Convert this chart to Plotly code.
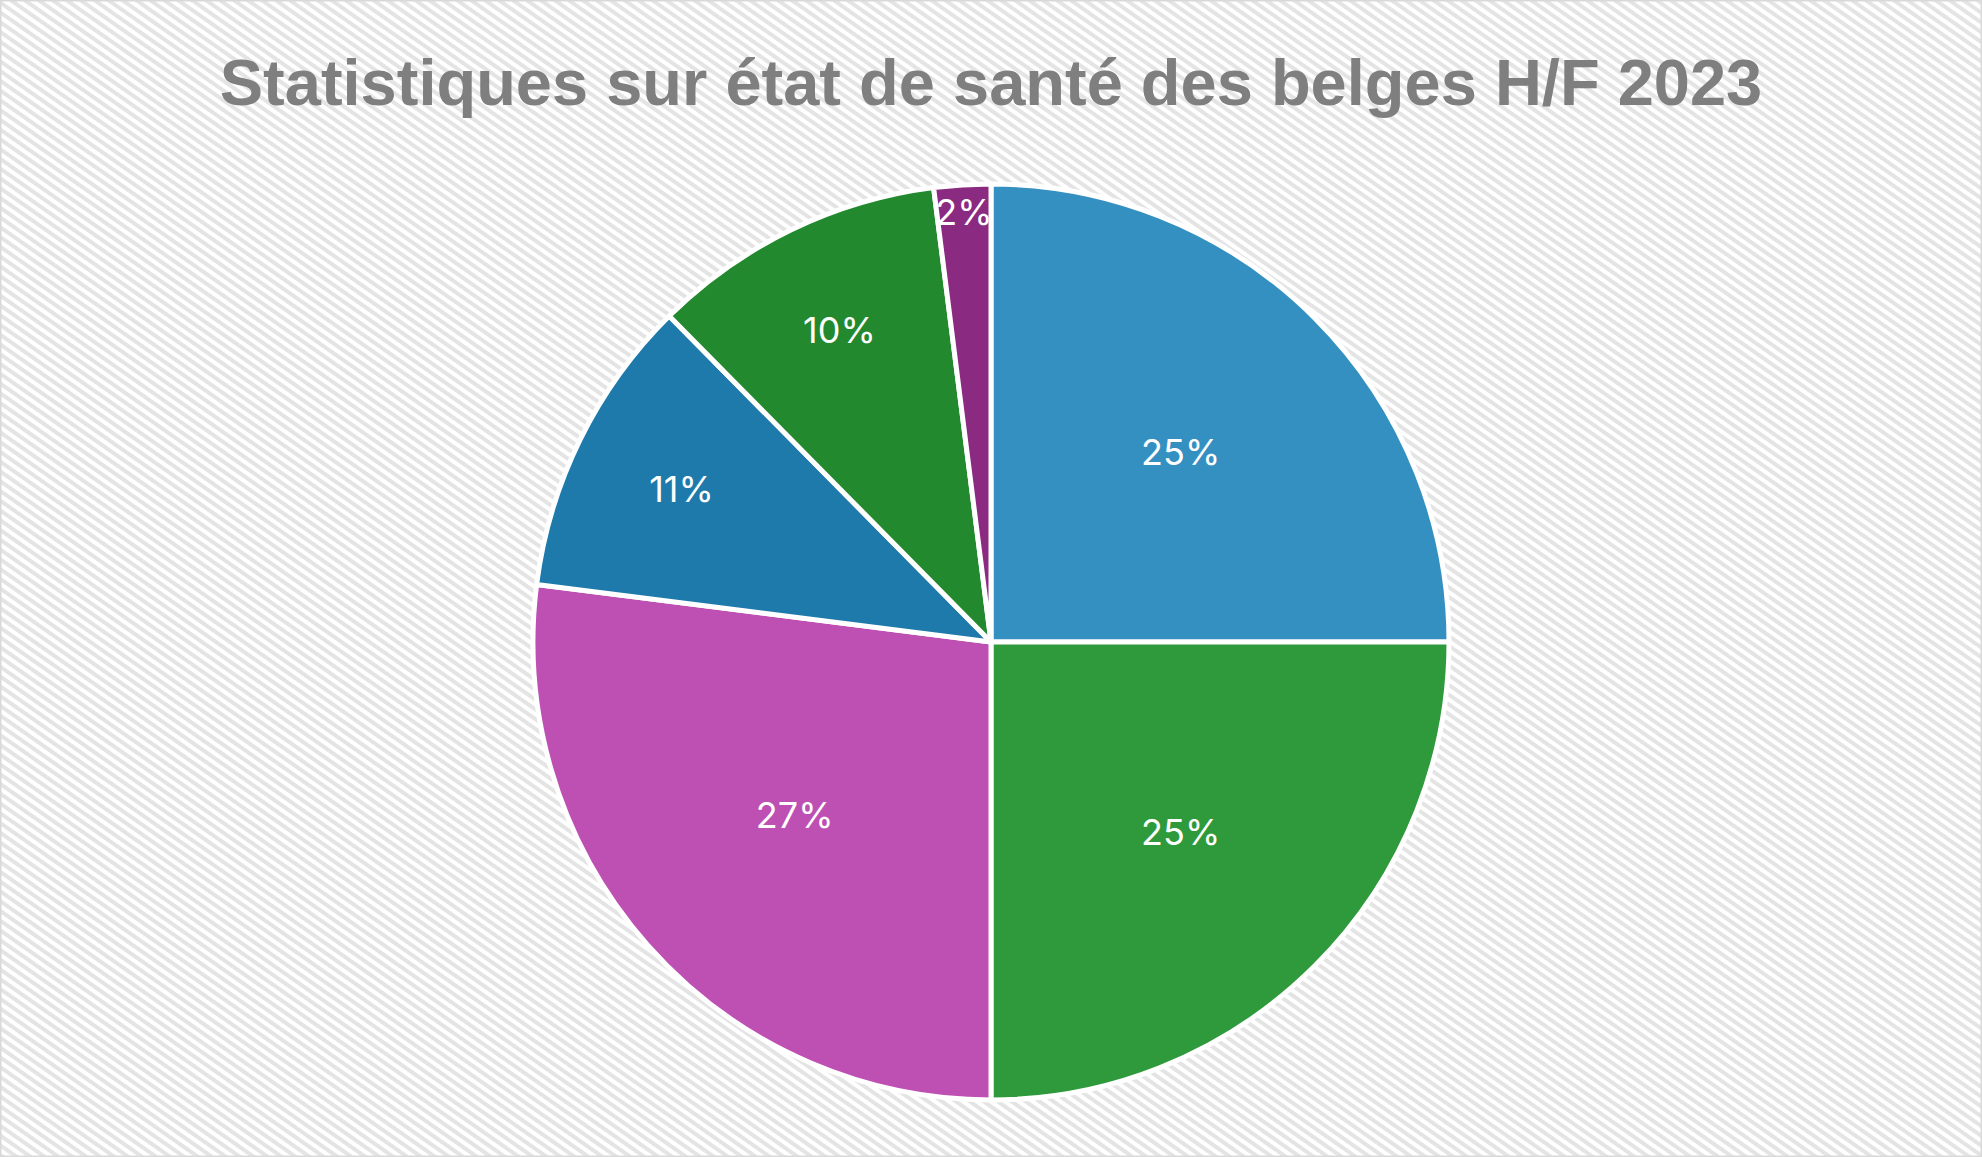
import base64
import plotly.graph_objects as go

# Data (percentages, clockwise from 12 o'clock)
categories = ["Catégorie 1", "Catégorie 2", "Catégorie 3", "Catégorie 4", "Catégorie 5", "Catégorie 6"]
values = [25, 25, 27, 10.6, 10.4, 2.0]
slice_colors = ["#3590c2", "#2e9a3c", "#bd50b2", "#1d7aab", "#22892f", "#8a2a80"]

W, H = 1982, 1157

# decorative hatched background (light grey diagonal stripes on white)
svg = f'''<svg xmlns="http://www.w3.org/2000/svg" width="{W}" height="{H}" viewBox="0 0 {W} {H}">
<defs><pattern id="p" width="8" height="8" patternUnits="userSpaceOnUse" patternTransform="rotate(35)">
<rect width="8" height="8" fill="#ffffff"/><rect width="8" height="4" fill="#e4e4e4"/></pattern></defs>
<rect width="{W}" height="{H}" fill="url(#p)"/></svg>'''
bg_src = "data:image/svg+xml;base64," + base64.b64encode(svg.encode()).decode()

fig = go.Figure(
    go.Pie(
        labels=categories,
        values=values,
        sort=False,
        direction="clockwise",
        rotation=0,
        marker=dict(colors=slice_colors, line=dict(color="#ffffff", width=5)),
        texttemplate="%{percent:.0%}",
        textposition="inside",
        insidetextorientation="horizontal",
        textfont=dict(family="Inter", size=36, color="#ffffff"),
        showlegend=False,
        domain=dict(x=[0, 1], y=[0.0493, 0.8410]),
        hovertemplate="%{label}: %{percent:.0%}<extra></extra>",
    )
)

fig.update_layout(
    width=W,
    height=H,
    margin=dict(l=0, r=0, t=0, b=0),
    paper_bgcolor="#ffffff",
    uniformtext=dict(minsize=36, mode="show"),
    title=dict(
        text="<b>Statistiques sur état de santé des belges H/F 2023</b>",
        x=0.5,
        xanchor="center",
        y=1 - 82 / H,
        yanchor="middle",
        font=dict(family="Liberation Sans", size=65, color="#7f7f7f"),
    ),
    images=[dict(source=bg_src, xref="paper", yref="paper", x=0, y=1, sizex=1, sizey=1,
                 xanchor="left", yanchor="top", sizing="stretch", layer="below")],
    shapes=[dict(type="rect", xref="paper", yref="paper", x0=0, y0=0, x1=1, y1=1,
                 line=dict(color="#d9d9d9", width=3))],
)

fig.write_html(
    "out.html",
    config={"displayModeBar": False},
    post_script="document.body.style.margin='0';document.body.style.overflow='hidden';",
)
